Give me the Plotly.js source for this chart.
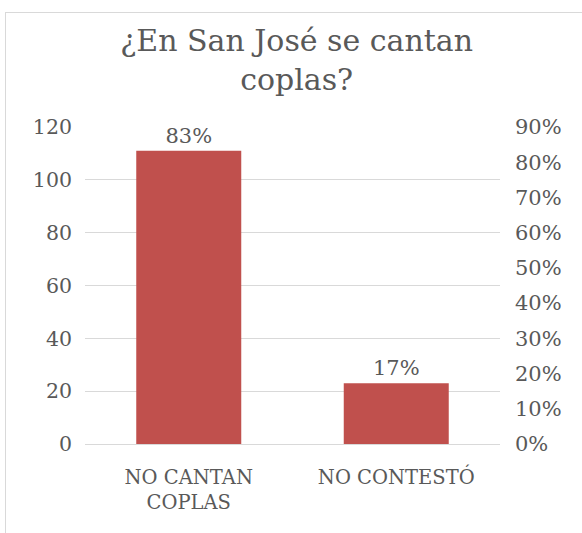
<!DOCTYPE html>
<html>
<head>
<meta charset="utf-8">
<script src="https://cdn.plot.ly/plotly-3.0.1.min.js"></script>
<style>
html,body{margin:0;padding:0;background:#fff;}
#frame{position:absolute;left:5px;top:12px;width:577px;height:521px;border-left:1px solid #d9d9d9;border-top:1px solid #d9d9d9;}
#chart{position:absolute;left:0;top:0;width:582px;height:533px;}
</style>
</head>
<body>
<div id="frame"></div>
<div id="chart"></div>
<script>
const categories = ['NO CANTAN<br>COPLAS', 'NO CONTESTÓ'];
const counts = [111, 23];
const percentLabels = ['83%', '17%'];
const leftTicks = [0, 20, 40, 60, 80, 100, 120];
const rightTicks = [0, 0.1, 0.2, 0.3, 0.4, 0.5, 0.6, 0.7, 0.8, 0.9];

const FONT = 'DejaVu Serif, Liberation Serif, serif';
const GRAY = '#595959';

const trace = {
  type: 'bar',
  x: categories,
  y: counts,
  text: percentLabels,
  textposition: 'outside',
  cliponaxis: false,
  textfont: {family: FONT, size: 21, color: GRAY},
  marker: {color: '#c0504d'},
  hoverinfo: 'none'
};
const dummy = {
  type: 'scatter', x: categories, y: [null, null], yaxis: 'y2',
  showlegend: false, hoverinfo: 'none', mode: 'markers'
};

const layout = {
  width: 582, height: 533,
  margin: {l: 85, r: 82, t: 127, b: 89},
  paper_bgcolor: 'rgba(0,0,0,0)',
  plot_bgcolor: 'rgba(0,0,0,0)',
  showlegend: false,
  bargap: 0.494,
  font: {family: FONT, color: GRAY},
  title: {
    text: '¿En San José se cantan<br>coplas?',
    font: {family: FONT, size: 30, color: GRAY},
    x: 0.51, xref: 'paper', xanchor: 'center',
    y: 0.905, yref: 'container', yanchor: 'middle'
  },
  xaxis: {
    type: 'category',
    tickfont: {family: FONT, size: 19.5, color: GRAY},
    showline: false, ticks: '', showgrid: false,
    ticklabelstandoff: 19
  },
  yaxis: {
    range: [0, 120],
    tickvals: leftTicks,
    tickfont: {family: FONT, size: 20.5, color: GRAY},
    showgrid: true, gridcolor: '#d9d9d9', gridwidth: 1,
    zeroline: true, zerolinecolor: '#d9d9d9', zerolinewidth: 1,
    showline: false, ticks: '',
    ticklabelstandoff: 12
  },
  yaxis2: {
    overlaying: 'y', side: 'right',
    range: [0, 0.9],
    tickvals: rightTicks,
    tickformat: '.0%',
    tickfont: {family: FONT, size: 21, color: GRAY},
    showgrid: false, zeroline: false, showline: false, ticks: '',
    ticklabelstandoff: 14
  }
};

Plotly.newPlot('chart', [trace, dummy], layout, {displayModeBar: false, staticPlot: true});
</script>
</body>
</html>
